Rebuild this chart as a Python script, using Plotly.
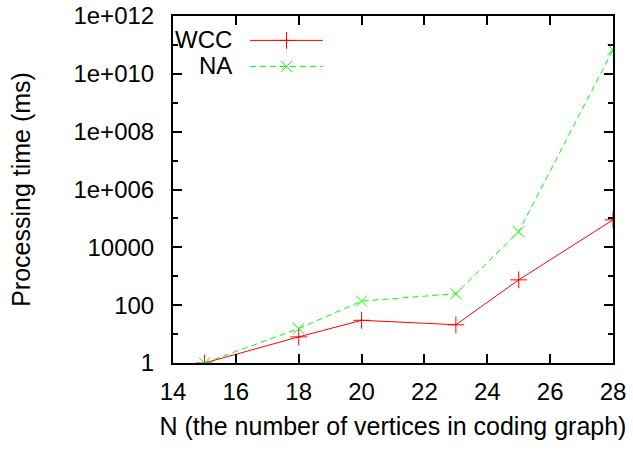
import plotly.graph_objects as go

# Problem size N and measured processing times (ms)
n_vertices = [15, 18, 20, 23, 25, 28]
wcc_time = [1, 8, 30, 21, 750, 89000]
na_time = [1, 15.5, 138, 250, 35000, 6.7e10]

x_ticks = [14, 16, 18, 20, 22, 24, 26, 28]
y_major = [1, 1e2, 1e4, 1e6, 1e8, 1e10, 1e12]
y_major_text = ["1", "100", "10000", "1e+006", "1e+008", "1e+010", "1e+012"]
y_minor = [1e1, 1e3, 1e5, 1e7, 1e9, 1e11]

RED = "#ff0000"
GREEN = "#00ff00"
FONT = "Liberation Sans, Arial, sans-serif"

fig = go.Figure()

fig.add_trace(go.Scatter(
    x=n_vertices, y=wcc_time, mode="lines+markers", name="WCC",
    line=dict(color=RED, width=1),
    marker=dict(symbol="cross-thin", size=12, line=dict(color=RED, width=1)),
    showlegend=False,
))
fig.add_trace(go.Scatter(
    x=n_vertices, y=na_time, mode="lines+markers", name="NA",
    line=dict(color=GREEN, width=1, dash="6px,4px"),
    marker=dict(symbol="x-thin", size=11, line=dict(color=GREEN, width=1)),
    showlegend=False,
))

# Key drawn inside the plot area, text to the left of the sample (gnuplot style).
# Auxiliary axes x2/y2 measure pixels from the bottom-left corner of the plot.
key_rows = [("WCC", RED, "solid", "cross-thin", 12, 322.6),
            ("NA", GREEN, "6px,4px", "x-thin", 11, 296.6)]
for label, color, dash, sym, size, ky in key_rows:
    fig.add_trace(go.Scatter(
        x=[77, 150], y=[ky, ky], mode="lines", xaxis="x2", yaxis="y2",
        line=dict(color=color, width=1, dash=dash), showlegend=False, hoverinfo="skip",
    ))
    fig.add_trace(go.Scatter(
        x=[113.5], y=[ky], mode="markers", xaxis="x2", yaxis="y2",
        marker=dict(symbol=sym, size=size, line=dict(color=color, width=1)),
        showlegend=False, hoverinfo="skip",
    ))
    fig.add_annotation(
        x=61, y=ky + 1, xref="x2", yref="y2", text=label, showarrow=False,
        xanchor="right", yanchor="middle", font=dict(family=FONT, size=24, color="black"),
    )

W, H = 633, 451
ML, MR, MT, MB = 173, 20, 16, 88

fig.update_layout(
    width=W, height=H,
    margin=dict(l=ML, r=MR, t=MT, b=MB),
    paper_bgcolor="white", plot_bgcolor="white",
    font=dict(family=FONT, size=22, color="black"),
    xaxis=dict(
        range=[14, 28], tickvals=x_ticks, ticks="inside", ticklen=9, tickwidth=2,
        tickcolor="black", showline=True, linewidth=2, linecolor="black",
        mirror="ticks", showgrid=False, zeroline=False, automargin=False,
        tickfont=dict(family=FONT, size=24, color="black"), ticklabelstandoff=6,
        title=dict(text="N (the number of vertices in coding graph)", standoff=14,
                   font=dict(family=FONT, size=25, color="black")),
    ),
    yaxis=dict(
        type="log", range=[0, 12], tickvals=y_major, ticktext=y_major_text,
        ticks="inside", ticklen=9, tickwidth=2, tickcolor="black",
        showline=True, linewidth=2, linecolor="black", mirror="ticks",
        showgrid=False, zeroline=False, ticklabelstandoff=12, automargin=False,
        tickfont=dict(family=FONT, size=24, color="black"),
        minor=dict(tickmode="array", tickvals=y_minor, ticks="inside", ticklen=5,
                   tickwidth=2, tickcolor="black", showgrid=False),
        title=dict(text="Processing time (ms)", standoff=36,
                   font=dict(family=FONT, size=25, color="black")),
    ),
    xaxis2=dict(range=[0, W - ML - MR], overlaying="x", visible=False, fixedrange=True),
    yaxis2=dict(range=[0, H - MT - MB], overlaying="y", visible=False, fixedrange=True),
)

fig.write_html("out.html")
